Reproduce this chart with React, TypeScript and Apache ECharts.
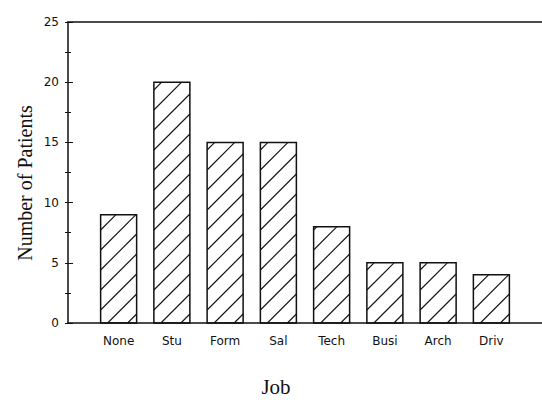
import React, { useEffect, useRef } from "react";
import * as echarts from "echarts";

const categories = ["None", "Stu", "Form", "Sal", "Tech", "Busi", "Arch", "Driv"];
const patients = [9, 20, 15, 15, 8, 5, 5, 4];
const yMin = 0;
const yMax = 25;
const yInterval = 5;
const xTitle = "Job";
const yTitle = "Number of Patients";

const BAR_W = 36;
const HATCH_STEP = 20;

function renderBar(params: any, api: any) {
  const idx = api.value(0);
  const val = api.value(1);
  const base = api.coord([idx, 0]);
  const top = api.coord([idx, val]);
  const x0 = base[0] - BAR_W / 2;
  const x1 = base[0] + BAR_W / 2;
  const y0 = top[1];
  const y1 = base[1];
  const children: any[] = [];
  const lineStyle = { stroke: "#111", lineWidth: 1.1 };
  for (let c = x1 + y1 - 9; c > x0 + y0; c -= HATCH_STEP) {
    const xa = Math.max(x0, c - y1);
    const xb = Math.min(x1, c - y0);
    if (xb - xa > 0.5) {
      children.push({
        type: "line",
        shape: { x1: xa, y1: c - xa, x2: xb, y2: c - xb },
        style: lineStyle,
      });
    }
  }
  children.push({
    type: "rect",
    shape: { x: x0, y: y0, width: BAR_W, height: y1 - y0 },
    style: { fill: "none", stroke: "#111", lineWidth: 1.5 },
  });
  return { type: "group", children };
}

export default function App() {
  const ref = useRef<HTMLDivElement>(null);
  useEffect(() => {
    if (!ref.current) return;
    const chart = echarts.init(ref.current, null, { renderer: "svg" });
    const tickFont = { fontFamily: "DejaVu Sans", fontSize: 12, color: "#111" };
    const hiddenValueX = (gridIndex: number, position: string, showLine: boolean) => ({
      type: "value",
      gridIndex,
      position,
      min: 0,
      max: 1,
      axisLine: { show: showLine, onZero: false, lineStyle: { color: "#111", width: 1.5 } },
      axisTick: { show: false },
      axisLabel: { show: false },
      splitLine: { show: false },
    });
    chart.setOption({
      animation: false,
      backgroundColor: "#fff",
      grid: [
        { left: 68, right: 0, top: 22, bottom: 77 },
        { left: 92, right: 24, top: 22, bottom: 77 },
      ],
      xAxis: [
        hiddenValueX(0, "bottom", true),
        hiddenValueX(0, "top", true),
        {
          type: "category",
          gridIndex: 1,
          data: categories,
          axisLine: { show: false },
          axisTick: { show: false },
          axisLabel: { ...tickFont, margin: 12 },
        },
      ],
      yAxis: [
        {
          type: "value",
          gridIndex: 0,
          min: yMin,
          max: yMax,
          interval: yInterval,
          axisLine: { show: true, lineStyle: { color: "#111", width: 1.5 } },
          axisTick: { show: true, inside: true, length: 5, lineStyle: { color: "#111" } },
          minorTick: { show: true, splitNumber: 2, length: 3, lineStyle: { color: "#111" } },
          axisLabel: { ...tickFont, margin: 9 },
          splitLine: { show: false },
        },
        {
          type: "value",
          gridIndex: 0,
          position: "right",
          min: yMin,
          max: yMax,
          interval: yInterval / 2,
          axisLine: { show: false },
          axisTick: { show: true, inside: true, length: 3, lineStyle: { color: "#111" } },
          axisLabel: { show: false },
          splitLine: { show: false },
        },
        {
          type: "value",
          gridIndex: 1,
          min: yMin,
          max: yMax,
          show: false,
        },
      ],
      graphic: [
        {
          type: "text",
          x: 276,
          y: 387,
          style: {
            text: xTitle,
            fontFamily: "Liberation Serif",
            fontSize: 21,
            fill: "#111",
            textAlign: "center",
            textVerticalAlign: "middle",
          },
        },
        {
          type: "text",
          x: 25,
          y: 183,
          rotation: Math.PI / 2,
          style: {
            text: yTitle,
            fontFamily: "Liberation Serif",
            fontSize: 20,
            fill: "#111",
            textAlign: "center",
            textVerticalAlign: "middle",
          },
        },
      ],
      series: [
        {
          type: "custom",
          xAxisIndex: 2,
          yAxisIndex: 2,
          renderItem: renderBar,
          encode: { x: 0, y: 1 },
          data: patients.map((v, i) => [i, v]),
        },
      ],
    });
    return () => chart.dispose();
  }, []);
  return (
    <div
      ref={ref}
      style={{ position: "absolute", left: 0, top: 0, width: 542, height: 400 }}
    />
  );
}
